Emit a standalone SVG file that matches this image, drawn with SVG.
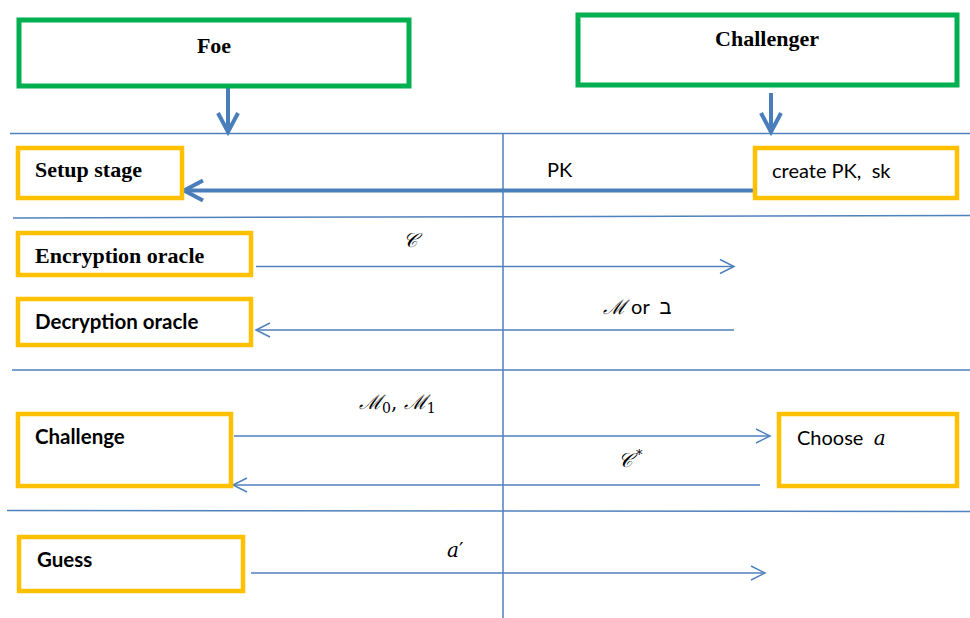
<svg xmlns="http://www.w3.org/2000/svg" width="970" height="618" viewBox="0 0 970 618">
<style>
.green{fill:#fff;stroke:#00B050;stroke-width:5}
.orange{fill:#fff;stroke:#FFC000;stroke-width:4.5}
.sep{stroke:#4F81BD;stroke-width:1.5;fill:none}
.thin{stroke:#4F81BD;stroke-width:1.5;fill:none;marker-end:url(#ah)}
.thick{stroke:#4A7EBB;stroke-width:4;fill:none;marker-end:url(#ahb)}
.ser{font-family:"Liberation Serif","Times New Roman",serif;font-weight:bold;font-size:22px;fill:#000}
.sb{font-family:Lato,"Liberation Sans",sans-serif;font-weight:bold;font-size:20.5px;fill:#000}
.sr{font-family:Lato,"Liberation Sans",sans-serif;font-size:20px;fill:#000}
.m{font-family:"DejaVu Serif","Liberation Serif",serif;font-style:italic;font-size:20px;fill:#000}
</style>
<defs>
<marker id="ah" markerUnits="userSpaceOnUse" markerWidth="20" markerHeight="20" refX="14" refY="8" orient="auto" overflow="visible">
<path d="M0,1 L14,8 L0,15" fill="none" stroke="#4F81BD" stroke-width="1.5"/>
</marker>
<marker id="ahb" markerUnits="userSpaceOnUse" markerWidth="26" markerHeight="24" refX="20" refY="11" orient="auto" overflow="visible">
<path d="M1,1 L20,11 L1,21" fill="none" stroke="#4A7EBB" stroke-width="4"/>
</marker>
</defs>
<g id="separators">
<line class="sep" x1="10" y1="133.5" x2="970" y2="133.5"/>
<line class="sep" x1="13" y1="218" x2="970" y2="215.5"/>
<line class="sep" x1="12" y1="370" x2="970" y2="370"/>
<line class="sep" x1="7" y1="510.5" x2="970" y2="511.5"/>
<line class="sep" x1="503" y1="133" x2="503" y2="618"/>
</g>
<g id="connectors">
<line class="thick" x1="228" y1="88" x2="228" y2="132"/>
<line class="thick" x1="771" y1="93" x2="771" y2="132"/>
<line class="thick" x1="754" y1="190.5" x2="184" y2="190.5"/>
<line class="thin" x1="256" y1="266.5" x2="734" y2="266.5"/>
<line class="thin" x1="734" y1="330" x2="256" y2="330"/>
<line class="thin" x1="234" y1="436" x2="770" y2="436"/>
<line class="thin" x1="760" y1="485" x2="233" y2="485"/>
<line class="thin" x1="251" y1="573" x2="765" y2="573"/>
</g>
<g id="labels">
<text class="sr" x="547" y="177" font-size="18">PK</text>
<text class="m" x="403" y="247">𝒞</text>
<text x="603" y="314" xml:space="preserve"><tspan class="m">ℳ</tspan><tspan class="sr" font-size="19"> or  </tspan><tspan class="sr" font-family="DejaVu Sans" font-size="19">ב</tspan></text>
<text class="m" x="359" y="409">ℳ<tspan font-style="normal" font-size="14" dy="4">0</tspan><tspan font-style="normal" dy="-4">, </tspan>ℳ<tspan font-style="normal" font-size="14" dy="4">1</tspan></text>
<text class="m" x="618" y="467">𝒞<tspan font-style="normal" font-size="13" dx="3" dy="-8">*</tspan></text>
<text class="m" x="447" y="557">a<tspan font-style="normal">′</tspan></text>
</g>
<g id="foe">
<rect class="green" x="19" y="20" width="390" height="66"/>
<text class="ser" x="214" y="53" text-anchor="middle">Foe</text>
</g>
<g id="challenger">
<rect class="green" x="578" y="15" width="379" height="70"/>
<text class="ser" x="767" y="46" text-anchor="middle">Challenger</text>
</g>
<g id="setup">
<rect class="orange" x="18" y="148" width="164" height="50"/>
<text class="ser" x="35" y="177">Setup stage</text>
</g>
<g id="create">
<rect class="orange" x="755" y="148" width="202" height="50"/>
<text class="sr" x="772" y="178" xml:space="preserve">create PK,  sk</text>
</g>
<g id="encryption">
<rect class="orange" x="18" y="233" width="233" height="42"/>
<text class="ser" x="35" y="263">Encryption oracle</text>
</g>
<g id="decryption">
<rect class="orange" x="18" y="299" width="233" height="46"/>
<text class="sb" x="35" y="329">Decryption oracle</text>
</g>
<g id="challenge">
<rect class="orange" x="18" y="414" width="213" height="72"/>
<text class="sb" x="35" y="444">Challenge</text>
</g>
<g id="choose">
<rect class="orange" x="779" y="414" width="178" height="72"/>
<text x="797" y="445" xml:space="preserve"><tspan class="sr">Choose  </tspan><tspan class="m">a</tspan></text>
</g>
<g id="guess">
<rect class="orange" x="19" y="537" width="224" height="54"/>
<text class="sb" x="37" y="567">Guess</text>
</g>
</svg>
